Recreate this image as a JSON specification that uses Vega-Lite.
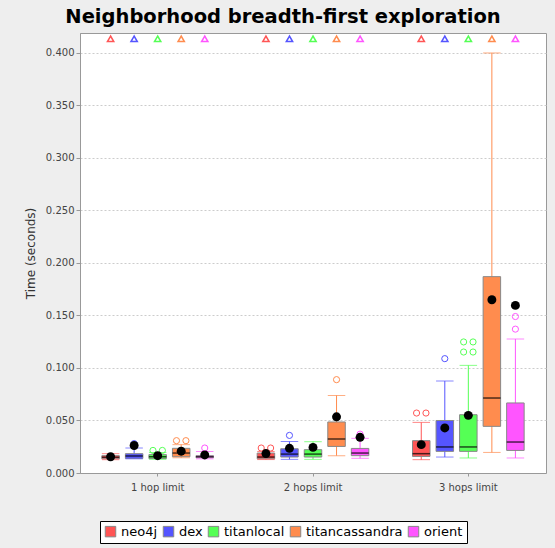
{
  "$schema": "https://vega.github.io/schema/vega-lite/v6.json",
  "width": 466,
  "height": 440,
  "autosize": {"type": "none"},
  "padding": {"left": 80, "top": 33, "right": 9, "bottom": 75},
  "background": "#eeeeee",
  "title": {"text": "Neighborhood breadth-first exploration", "anchor": "middle", "dx": -30, "fontSize": 19.5, "font": "DejaVu Sans", "fontWeight": "bold", "offset": 6, "color": "black"},
  "config": {
    "view": {"stroke": "#999999", "fill": "white"},
    "axis": {"labelFont": "DejaVu Sans", "titleFont": "DejaVu Sans", "labelColor": "#444444", "titleColor": "#333333", "domainColor": "#999999", "tickColor": "#999999"}
  },
  "datasets": {
    "stats": [
      {"hop": "1 hop limit", "db": "neo4j", "lo": 0.0127, "q1": 0.0135, "med": 0.015, "q3": 0.0165, "hi": 0.0184, "mean": 0.0155},
      {"hop": "1 hop limit", "db": "dex", "lo": 0.0135, "q1": 0.0139, "med": 0.0162, "q3": 0.0184, "hi": 0.0238, "mean": 0.0262},
      {"hop": "1 hop limit", "db": "titanlocal", "lo": 0.013, "q1": 0.0138, "med": 0.0155, "q3": 0.0175, "hi": 0.0195, "mean": 0.0165},
      {"hop": "1 hop limit", "db": "titancassandra", "lo": 0.0145, "q1": 0.0155, "med": 0.019, "q3": 0.0235, "hi": 0.027, "mean": 0.0208},
      {"hop": "1 hop limit", "db": "orient", "lo": 0.0135, "q1": 0.0145, "med": 0.0155, "q3": 0.0165, "hi": 0.0205, "mean": 0.0172},
      {"hop": "2 hops limit", "db": "neo4j", "lo": 0.0128, "q1": 0.0135, "med": 0.0152, "q3": 0.019, "hi": 0.0205, "mean": 0.0185},
      {"hop": "2 hops limit", "db": "dex", "lo": 0.013, "q1": 0.0152, "med": 0.018, "q3": 0.0231, "hi": 0.030, "mean": 0.0235},
      {"hop": "2 hops limit", "db": "titanlocal", "lo": 0.013, "q1": 0.0152, "med": 0.018, "q3": 0.0222, "hi": 0.0298, "mean": 0.0244},
      {"hop": "2 hops limit", "db": "titancassandra", "lo": 0.0165, "q1": 0.0253, "med": 0.0324, "q3": 0.0486, "hi": 0.0739, "mean": 0.0535},
      {"hop": "2 hops limit", "db": "orient", "lo": 0.014, "q1": 0.0165, "med": 0.019, "q3": 0.0234, "hi": 0.033, "mean": 0.034},
      {"hop": "3 hops limit", "db": "neo4j", "lo": 0.0127, "q1": 0.0158, "med": 0.0184, "q3": 0.0308, "hi": 0.0482, "mean": 0.027},
      {"hop": "3 hops limit", "db": "dex", "lo": 0.0152, "q1": 0.0206, "med": 0.0248, "q3": 0.050, "hi": 0.0876, "mean": 0.0429},
      {"hop": "3 hops limit", "db": "titanlocal", "lo": 0.0143, "q1": 0.0206, "med": 0.0248, "q3": 0.0555, "hi": 0.1025, "mean": 0.0549},
      {"hop": "3 hops limit", "db": "titancassandra", "lo": 0.0196, "q1": 0.0444, "med": 0.0714, "q3": 0.187, "hi": 0.400, "mean": 0.165},
      {"hop": "3 hops limit", "db": "orient", "lo": 0.0143, "q1": 0.0215, "med": 0.0295, "q3": 0.0667, "hi": 0.1276, "mean": 0.1596}
    ],
    "outliers": [
      {"hop": "1 hop limit", "db": "dex", "slot": "dex-C", "value": 0.028},
      {"hop": "1 hop limit", "db": "titanlocal", "slot": "titanlocal-L", "value": 0.0215},
      {"hop": "1 hop limit", "db": "titanlocal", "slot": "titanlocal-R", "value": 0.0215},
      {"hop": "1 hop limit", "db": "titancassandra", "slot": "titancassandra-L", "value": 0.0308},
      {"hop": "1 hop limit", "db": "titancassandra", "slot": "titancassandra-R", "value": 0.0308},
      {"hop": "1 hop limit", "db": "orient", "slot": "orient-C", "value": 0.0238},
      {"hop": "2 hops limit", "db": "neo4j", "slot": "neo4j-L", "value": 0.0238},
      {"hop": "2 hops limit", "db": "neo4j", "slot": "neo4j-R", "value": 0.0238},
      {"hop": "2 hops limit", "db": "dex", "slot": "dex-C", "value": 0.0358},
      {"hop": "2 hops limit", "db": "titancassandra", "slot": "titancassandra-C", "value": 0.0889},
      {"hop": "2 hops limit", "db": "orient", "slot": "orient-C", "value": 0.037},
      {"hop": "3 hops limit", "db": "neo4j", "slot": "neo4j-L", "value": 0.0571},
      {"hop": "3 hops limit", "db": "neo4j", "slot": "neo4j-R", "value": 0.0571},
      {"hop": "3 hops limit", "db": "dex", "slot": "dex-C", "value": 0.1089},
      {"hop": "3 hops limit", "db": "titanlocal", "slot": "titanlocal-L", "value": 0.1248},
      {"hop": "3 hops limit", "db": "titanlocal", "slot": "titanlocal-R", "value": 0.1248},
      {"hop": "3 hops limit", "db": "titanlocal", "slot": "titanlocal-L", "value": 0.1152},
      {"hop": "3 hops limit", "db": "titanlocal", "slot": "titanlocal-R", "value": 0.1152},
      {"hop": "3 hops limit", "db": "orient", "slot": "orient-C", "value": 0.149},
      {"hop": "3 hops limit", "db": "orient", "slot": "orient-C", "value": 0.137}
    ]
  },
  "encoding": {
    "x": {"field": "hop", "type": "nominal", "sort": null,
      "scale": {"type": "band", "paddingInner": 0, "paddingOuter": 0},
      "axis": {"title": null, "labelAngle": 0, "labelFontSize": 10, "tickSize": 3, "labelPadding": 6, "grid": false}},
    "xOffset": {"field": "db", "type": "nominal",
      "scale": {"type": "band", "domain": ["neo4j", "dex", "titanlocal", "titancassandra", "orient"], "paddingInner": 0, "paddingOuter": 0.8}}
  },
  "layer": [
    {
      "data": {"name": "stats"},
      "mark": {"type": "rule", "strokeWidth": 1},
      "encoding": {
        "y": {"field": "lo", "type": "quantitative",
          "scale": {"domain": [0, 0.419], "nice": false, "zero": true},
          "axis": {"title": "Time (seconds)", "titleFontSize": 12, "titleFontWeight": "normal", "titlePadding": 8,
            "values": [0, 0.025, 0.05, 0.075, 0.1, 0.125, 0.15, 0.175, 0.2, 0.225, 0.25, 0.275, 0.3, 0.325, 0.35, 0.375, 0.4],
            "format": ".3f", "labelFontSize": 10, "tickSize": 4, "grid": true, "gridColor": "#cccccc", "gridDash": [2, 2]}},
        "y2": {"field": "hi"},
        "color": {"field": "db", "type": "nominal", "legend": null,
          "scale": {"domain": ["neo4j", "dex", "titanlocal", "titancassandra", "orient"], "range": ["#ff5555", "#5555ff", "#55ff55", "#ff8c4e", "#ff55ff"]}}
      }
    },
    {
      "data": {"name": "stats"},
      "mark": {"type": "bar", "width": 17.5, "stroke": "#888888", "strokeWidth": 1, "opacity": 1},
      "encoding": {
        "y": {"field": "q1", "type": "quantitative"},
        "y2": {"field": "q3"},
        "color": {"field": "db", "type": "nominal",
          "scale": {"domain": ["neo4j", "dex", "titanlocal", "titancassandra", "orient"], "range": ["#ff5555", "#5555ff", "#55ff55", "#ff8c4e", "#ff55ff"]},
          "legend": {"title": null, "orient": "none", "legendX": 20, "legendY": 488, "direction": "horizontal", "columns": 5,
            "symbolType": "square", "symbolSize": 110, "symbolStrokeColor": "#888888", "symbolStrokeWidth": 1,
            "labelFont": "DejaVu Sans", "labelFontSize": 13, "labelColor": "black", "labelOffset": 4, "columnPadding": 3,
            "strokeColor": "black", "fillColor": "white", "padding": 4}}
      }
    },
    {
      "data": {"name": "stats"},
      "mark": {"type": "tick", "size": 17.5, "thickness": 1.5, "color": "black"},
      "encoding": {"y": {"field": "med", "type": "quantitative"}}
    },
    {
      "data": {"name": "stats"},
      "mark": {"type": "tick", "size": 17.5, "thickness": 1},
      "encoding": {
        "y": {"field": "lo", "type": "quantitative"},
        "color": {"field": "db", "type": "nominal", "legend": null,
          "scale": {"domain": ["neo4j", "dex", "titanlocal", "titancassandra", "orient"], "range": ["#ff5555", "#5555ff", "#55ff55", "#ff8c4e", "#ff55ff"]}}
      }
    },
    {
      "data": {"name": "stats"},
      "mark": {"type": "tick", "size": 17.5, "thickness": 1},
      "encoding": {
        "y": {"field": "hi", "type": "quantitative"},
        "color": {"field": "db", "type": "nominal", "legend": null,
          "scale": {"domain": ["neo4j", "dex", "titanlocal", "titancassandra", "orient"], "range": ["#ff5555", "#5555ff", "#55ff55", "#ff8c4e", "#ff55ff"]}}
      }
    },
    {
      "data": {"name": "outliers"},
      "mark": {"type": "point", "shape": "circle", "filled": false, "size": 38, "strokeWidth": 1, "opacity": 1},
      "encoding": {
        "xOffset": {"field": "slot", "type": "nominal",
          "scale": {"type": "band", "domain": ["pad-1", "pad-2", "pad-3", "pad-4", "neo4j-a", "neo4j-L", "neo4j-C", "neo4j-R", "neo4j-b", "dex-a", "dex-L", "dex-C", "dex-R", "dex-b", "titanlocal-a", "titanlocal-L", "titanlocal-C", "titanlocal-R", "titanlocal-b", "titancassandra-a", "titancassandra-L", "titancassandra-C", "titancassandra-R", "titancassandra-b", "orient-a", "orient-L", "orient-C", "orient-R", "orient-b", "pad-5", "pad-6", "pad-7", "pad-8"], "paddingInner": 0, "paddingOuter": 0}},
        "y": {"field": "value", "type": "quantitative"},
        "color": {"field": "db", "type": "nominal", "legend": null,
          "scale": {"domain": ["neo4j", "dex", "titanlocal", "titancassandra", "orient"], "range": ["#ff5555", "#5555ff", "#55ff55", "#ff8c4e", "#ff55ff"]}}
      }
    },
    {
      "data": {"name": "stats"},
      "mark": {"type": "point", "shape": "circle", "filled": true, "size": 80, "color": "black", "opacity": 1},
      "encoding": {"y": {"field": "mean", "type": "quantitative"}}
    },
    {
      "data": {"name": "stats"},
      "mark": {"type": "point", "shape": "triangle-up", "filled": false, "size": 40, "strokeWidth": 1.5, "opacity": 1},
      "encoding": {
        "y": {"datum": 0.4135, "type": "quantitative"},
        "color": {"field": "db", "type": "nominal", "legend": null,
          "scale": {"domain": ["neo4j", "dex", "titanlocal", "titancassandra", "orient"], "range": ["#ff5555", "#5555ff", "#55ff55", "#ff8c4e", "#ff55ff"]}}
      }
    }
  ],
  "resolve": {"scale": {"color": "independent", "xOffset": "independent"}, "legend": {"color": "independent"}}
}
